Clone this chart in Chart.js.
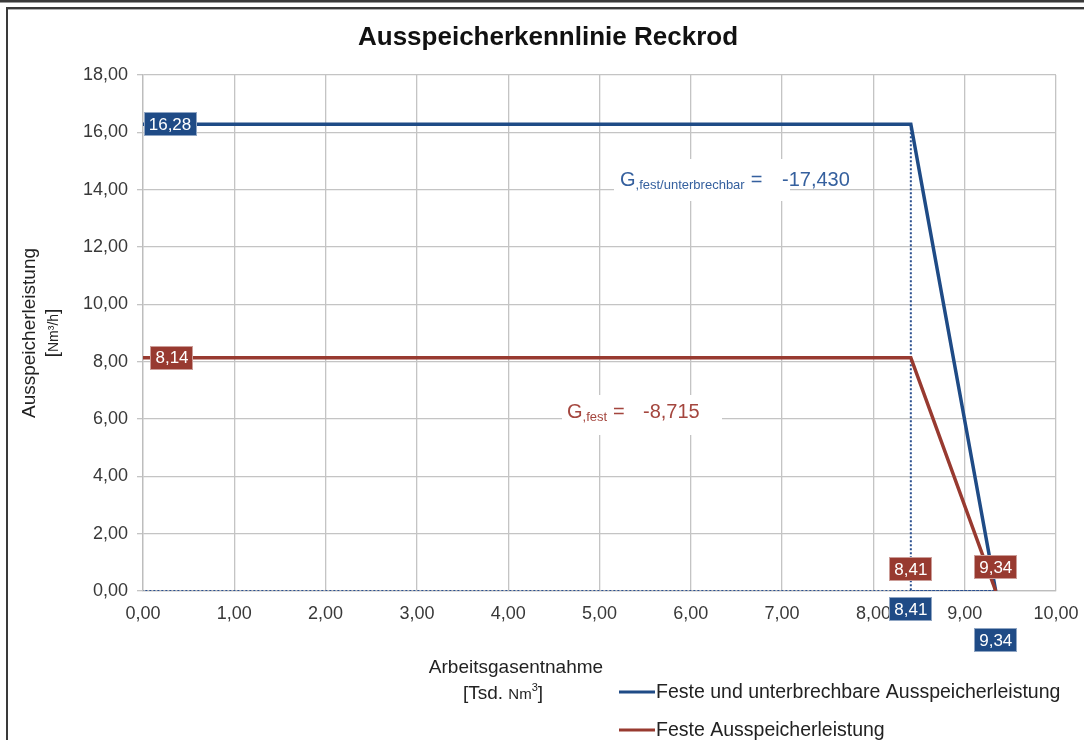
<!DOCTYPE html>
<html><head><meta charset="utf-8">
<script src="https://cdn.jsdelivr.net/npm/chart.js@4/dist/chart.umd.min.js"></script>
<style>html,body{margin:0;padding:0;background:#fff}#wrap{width:1084px;height:740px;position:relative}</style>
</head><body><div id="wrap"><canvas id="c" width="1084" height="740"></canvas></div>
<script>
// ---- data ----
const chartTitle = 'Ausspeicherkennlinie Reckrod';
const seriesNames = ['Feste und unterbrechbare Ausspeicherleistung', 'Feste Ausspeicherleistung'];
const xBlue = [0, 8.41, 9.34];
const yBlue = [16.28, 16.28, 0];
const xRed = [0, 8.41, 9.34];
const yRed = [8.14, 8.14, 0];
const gradientBlue = '-17,430';
const gradientRed = '-8,715';
const xTickValues = [0,1,2,3,4,5,6,7,8,9,10];
const yTickValues = [0,2,4,6,8,10,12,14,16,18];

const BLUE = '#1f4b86', RED = '#983a30';
const FONT = '"Liberation Sans", Arial, sans-serif';
const fmt = v => v.toFixed(2).replace('.', ',');

const pts = (xs, ys) => xs.map((x, i) => ({x, y: ys[i]}));
// dotted guide: knee down to axis and along axis
const guide = [
  {x: xBlue[1], y: yBlue[1]}, {x: xBlue[1], y: 0},
  {x: xBlue[2], y: 0}, {x: 0, y: 0}
];

function richText(ctx, parts, x, y, color) {
  let cx = x;
  ctx.fillStyle = color;
  ctx.textBaseline = 'alphabetic';
  ctx.textAlign = 'left';
  for (const p of parts) {
    ctx.font = (p.bold ? 'bold ' : '') + p.size + 'px ' + FONT;
    if (p.x !== undefined) cx = x + p.x;
    if (p.gap) cx += p.gap;
    ctx.fillText(p.t, cx, y + (p.dy || 0));
    cx += ctx.measureText(p.t).width;
  }
  return cx - x;
}
function richWidth(ctx, parts) {
  let w = 0;
  for (const p of parts) { ctx.font = p.size + 'px ' + FONT; w += ctx.measureText(p.t).width; }
  return w;
}
function box(ctx, text, cx, cy, fill) {
  ctx.font = '17px ' + FONT;
  const w = ctx.measureText(text).width + 10, h = 24;
  ctx.fillStyle = fill;
  ctx.fillRect(Math.round(cx - w / 2), Math.round(cy - h / 2), Math.round(w), h);
  ctx.strokeStyle = 'rgba(255,255,255,0.5)';
  ctx.lineWidth = 1;
  ctx.strokeRect(Math.round(cx - w / 2) + 0.5, Math.round(cy - h / 2) + 0.5, Math.round(w) - 1, h - 1);
  ctx.fillStyle = '#fff';
  ctx.textAlign = 'center';
  ctx.textBaseline = 'middle';
  ctx.fillText(text, cx, cy + 1);
}

const decor = {
  id: 'decor',
  beforeDatasetsDraw(chart) {
    const ctx = chart.ctx;
    ctx.save();
    // gradient annotations with white backgrounds
    ctx.fillStyle = '#fff';
    ctx.fillRect(614, 159, 176, 42);
    ctx.fillRect(562, 395, 160, 40);
    richText(ctx, [
      {t: 'G', size: 20}, {t: ',fest/unterbrechbar', size: 13, dy: 3},
      {t: '=', size: 20, gap: 6}, {t: gradientBlue, size: 20, x: 162}
    ], 620, 186, '#35609e');
    richText(ctx, [
      {t: 'G', size: 20}, {t: ',fest', size: 13, dy: 3},
      {t: '=', size: 20, x: 46}, {t: gradientRed, size: 20, x: 76}
    ], 567, 418, '#a4463e');
    ctx.restore();
  },
  afterDatasetsDraw(chart) {
    const ctx = chart.ctx, xs = chart.scales.x, ys = chart.scales.y;
    ctx.save();
    // value labels
    const y0 = ys.getPixelForValue(0);
    box(ctx, fmt(yBlue[0]), xs.getPixelForValue(xBlue[0]) + 27, ys.getPixelForValue(yBlue[0]), BLUE);
    box(ctx, fmt(yRed[0]), xs.getPixelForValue(xRed[0]) + 29, ys.getPixelForValue(yRed[0]), RED);
    box(ctx, fmt(xRed[1]), xs.getPixelForValue(xRed[1]), y0 - 22, RED);
    box(ctx, fmt(xRed[2]), xs.getPixelForValue(xRed[2]), y0 - 24, RED);
    box(ctx, fmt(xBlue[1]), xs.getPixelForValue(xBlue[1]), y0 + 18, BLUE);
    box(ctx, fmt(xBlue[2]), xs.getPixelForValue(xBlue[2]), y0 + 49, BLUE);
    ctx.restore();
  },
  afterDraw(chart) {
    const ctx = chart.ctx;
    ctx.save();
    // frame
    ctx.fillStyle = '#3a3a3a';
    ctx.fillRect(0, 0, 1084, 2);
    ctx.fillStyle = '#9a9a9a';
    ctx.fillRect(0, 2, 1084, 1);
    ctx.fillStyle = '#3a3a3a';
    ctx.fillRect(6, 7, 1078, 2);
    ctx.fillRect(6, 7, 2, 733);
    ctx.fillStyle = '#b0b0b0';
    ctx.fillRect(8, 9, 1076, 1);
    // title
    ctx.fillStyle = '#111';
    ctx.font = 'bold 26px ' + FONT;
    ctx.textAlign = 'center';
    ctx.textBaseline = 'middle';
    ctx.fillText(chartTitle, 548, 38);
    // x title
    ctx.fillStyle = '#222';
    ctx.font = '19px ' + FONT;
    ctx.fillText('Arbeitsgasentnahme', 516, 668);
    const xt2 = [{t: '[Tsd. ', size: 19}, {t: 'Nm', size: 15}, {t: '3', size: 11, dy: -8}, {t: ']', size: 19}];
    const w2 = richWidth(ctx, xt2);
    richText(ctx, xt2, 503 - w2 / 2, 699, '#222');
    // y title
    ctx.save();
    ctx.translate(30, 333);
    ctx.rotate(-Math.PI / 2);
    ctx.font = '19px ' + FONT;
    ctx.fillStyle = '#222';
    ctx.textAlign = 'center';
    ctx.textBaseline = 'middle';
    ctx.fillText('Ausspeicherleistung', 0, 0);
    const yt2 = [{t: '[', size: 19}, {t: 'Nm\u00B3/h', size: 14}, {t: ']', size: 19}];
    const w3 = richWidth(ctx, yt2);
    richText(ctx, yt2, -w3 / 2, 28, '#222');
    ctx.restore();
    // legend
    const items = [[seriesNames[0], BLUE, 692], [seriesNames[1], RED, 730]];
    for (const [name, col, ly] of items) {
      ctx.strokeStyle = col;
      ctx.lineWidth = 3;
      ctx.beginPath();
      ctx.moveTo(619, ly); ctx.lineTo(655, ly);
      ctx.stroke();
      ctx.fillStyle = '#222';
      ctx.font = '19.5px ' + FONT;
      ctx.textAlign = 'left';
      ctx.textBaseline = 'middle';
      ctx.fillText(name, 656, ly + 1);
    }
    ctx.restore();
  }
};

new Chart(document.getElementById('c'), {
  type: 'scatter',
  data: {
    datasets: [
      {label: seriesNames[0], data: pts(xBlue, yBlue), showLine: true, borderColor: BLUE, backgroundColor: BLUE, borderWidth: 3.5, pointRadius: 0, order: 2},
      {label: seriesNames[1], data: pts(xRed, yRed), showLine: true, borderColor: RED, backgroundColor: RED, borderWidth: 3.5, pointRadius: 0, order: 1},
      {label: 'guide', data: guide, showLine: true, borderColor: '#2a4f8f', borderWidth: 2, borderDash: [2, 2], pointRadius: 0, order: 3}
    ]
  },
  options: {
    responsive: false,
    animation: false,
    events: [],
    layout: {padding: {top: 75, right: 28, left: 0, bottom: 0}},
    plugins: {legend: {display: false}, tooltip: {enabled: false}, title: {display: false}},
    scales: {
      x: {
        type: 'linear', min: 0, max: 10,
        afterBuildTicks: s => { s.ticks = xTickValues.map(v => ({value: v})); },
        afterFit: s => { s.height = 149; s.paddingRight = 0; s.paddingLeft = 0; },
        grid: {color: '#c4c4c4', lineWidth: 1.3, drawTicks: false},
        border: {display: true, color: '#bdbdbd', width: 1.3},
        ticks: {padding: 12, color: '#383838', font: {family: FONT, size: 18}, callback: v => fmt(v), maxRotation: 0, autoSkip: false}
      },
      y: {
        type: 'linear', min: 0, max: 18,
        afterBuildTicks: s => { s.ticks = yTickValues.map(v => ({value: v})); },
        afterFit: s => { s.width = 143; s.paddingTop = 0; s.paddingBottom = 0; },
        grid: {color: '#c4c4c4', lineWidth: 1.3, tickLength: 6},
        border: {display: true, color: '#bdbdbd', width: 1.3},
        ticks: {padding: 9, color: '#383838', font: {family: FONT, size: 18}, callback: v => fmt(v)}
      }
    }
  },
  plugins: [decor]
});
</script>
</body></html>
